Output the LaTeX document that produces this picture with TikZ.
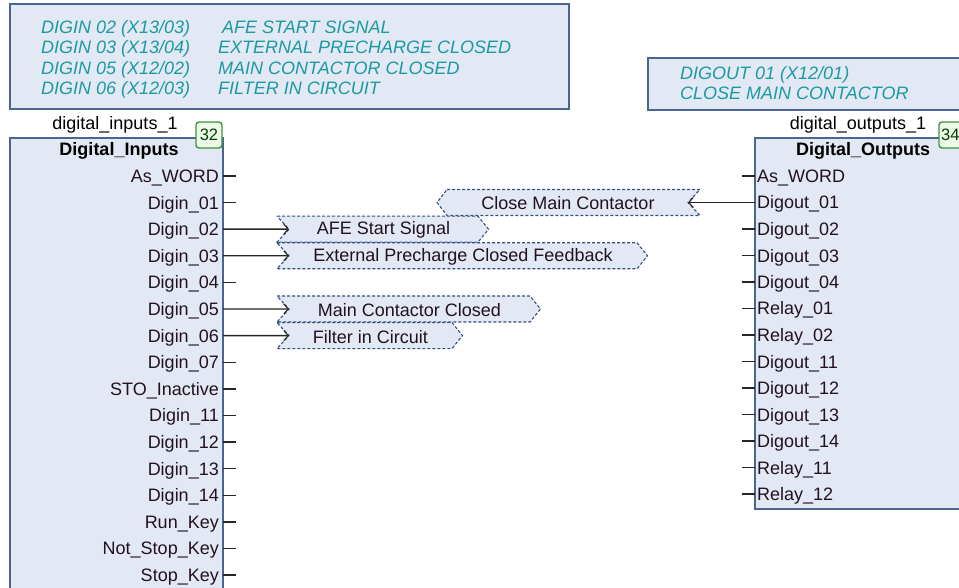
\documentclass[tikz,border=0pt]{standalone}
\usepackage{fontspec}
\setmainfont{Liberation Sans}
\usetikzlibrary{arrows.meta}
\definecolor{boxfill}{HTML}{E2E9F5}
\definecolor{boxline}{HTML}{4A6590}
\definecolor{cmttext}{HTML}{1C9AA2}
\definecolor{flagline}{HTML}{34507E}
\definecolor{badgeline}{HTML}{3E943E}
\definecolor{badgefill}{HTML}{EDF8E6}
\definecolor{pintext}{HTML}{22121E}
\tikzset{
  cmtbox/.style={draw=boxline,fill=boxfill,line width=1.3pt},
  blockbox/.style={draw=boxline,fill=boxfill,line width=1.3pt},
  cmt/.style={font=\fontsize{18}{20}\selectfont\itshape,text=cmttext,inner sep=0pt,anchor=base west},
  pinl/.style={font=\fontsize{18}{20}\selectfont,text=pintext,inner sep=0pt,anchor=base east},
  pinr/.style={font=\fontsize{18}{20}\selectfont,text=pintext,inner sep=0pt,anchor=base west},
  title/.style={font=\fontsize{18}{20}\selectfont\bfseries,text=black,inner sep=0pt,anchor=base},
  inst/.style={font=\fontsize{18}{20}\selectfont,text=black,inner sep=0pt,anchor=base},
  badge/.style={draw=badgeline,fill=badgefill,line width=1.4pt,rounded corners=3pt},
  badgetxt/.style={font=\fontsize{16.5}{17}\selectfont,text=black!75!green,inner sep=0pt},
  stub/.style={draw=black!85,line width=1.4pt},
  wire/.style={draw=black!85,line width=1.4pt,-{Straight Barb[length=4.5pt,width=10pt,line width=1.1pt]}},
  flag/.style={draw=flagline,fill=boxfill,line width=1.1pt,dash pattern=on 3pt off 2pt},
  flagtxt/.style={font=\fontsize{18}{20}\selectfont,text=pintext,inner sep=0pt}
}
\begin{document}
\begin{tikzpicture}[x=1pt,y=-1pt]
\useasboundingbox (0,0) rectangle (959,588);
% comment boxes
\draw[cmtbox] (10,4) rectangle (569,109);
\node[cmt] (c1a) at (41,33.5) {DIGIN 02 (X13/03)};
\node[cmt] (c1b) at (222,33.5) {AFE START SIGNAL};
\node[cmt] (c2a) at (41,53.8) {DIGIN 03 (X13/04)};
\node[cmt] (c2b) at (218,53.8) {EXTERNAL PRECHARGE CLOSED};
\node[cmt] (c3a) at (41,74.1) {DIGIN 05 (X12/02)};
\node[cmt] (c3b) at (218,74.1) {MAIN CONTACTOR CLOSED};
\node[cmt] (c4a) at (41,94.4) {DIGIN 06 (X12/03)};
\node[cmt] (c4b) at (218,94.4) {FILTER IN CIRCUIT};
\draw[cmtbox] (648,58) rectangle (975,110);
\node[cmt] (c5) at (680,79.5) {DIGOUT 01 (X12/01)};
\node[cmt] (c6) at (680,99.8) {CLOSE MAIN CONTACTOR};
% left block
\draw[blockbox] (10,138) rectangle (223,600);
\node[inst] (li) at (115,130) {digital\_inputs\_1};
\draw[badge] (196,122) rectangle (222,148);
\node[badgetxt] (lb) at (209,135) {32};
\node[title] (lt) at (119,156) {Digital\_Inputs};
\foreach \t [count=\i from 0] in {As\_WORD,Digin\_01,Digin\_02,Digin\_03,Digin\_04,Digin\_05,Digin\_06,Digin\_07,STO\_Inactive,Digin\_11,Digin\_12,Digin\_13,Digin\_14,Run\_Key,Not\_Stop\_Key,Stop\_Key}{
  \pgfmathsetmacro{\yy}{176+26.6*\i}
  \node[pinl] (lp\i) at (219,\yy+6.5) {\t};
  \coordinate (lo\i) at (223,\yy);
  \coordinate (ls\i) at (236,\yy);
}
\foreach \i in {0,1,4,7,8,9,10,11,12,13,14,15}{\draw[stub] (lo\i) -- (ls\i);}
% right block
\draw[blockbox] (755,138) rectangle (975,509);
\node[inst] (ri) at (858,130) {digital\_outputs\_1};
\draw[badge] (939,122) rectangle (975,148);
\node[badgetxt,anchor=west] (rb) at (941,135) {34};
\node[title] (rt) at (863,156) {Digital\_Outputs};
\foreach \t [count=\i from 0] in {As\_WORD,Digout\_01,Digout\_02,Digout\_03,Digout\_04,Relay\_01,Relay\_02,Digout\_11,Digout\_12,Digout\_13,Digout\_14,Relay\_11,Relay\_12}{
  \pgfmathsetmacro{\yy}{176+26.5*\i}
  \node[pinr] (rp\i) at (757,\yy+6.5) {\t};
  \coordinate (ro\i) at (755,\yy);
  \coordinate (rs\i) at (742,\yy);
}
\foreach \i in {0,2,3,4,5,6,7,8,9,10,11,12}{\draw[stub] (ro\i) -- (rs\i);}
% input flags: notch at x=289
\newcommand{\inflag}[5]{% name, y, right corner x, text, pin index
  \draw[flag] (277,#2-13) -- (#3,#2-13) -- (#3+10.5,#2) -- (#3,#2+13) -- (277,#2+13) -- (289,#2) -- cycle;
  \coordinate (#1n) at (289,#2);
  \node[flagtxt] (#1) at ({(289+#3)/2},#2+1) {#4};
  \draw[wire] (lo#5) -- (#1n);
}
\inflag{fa}{229.2}{478}{AFE Start Signal}{2}
\inflag{fb}{255.8}{637}{External Precharge Closed Feedback}{3}
\inflag{fc}{309}{530}{Main Contactor Closed}{5}
\inflag{fd}{335.6}{452}{Filter in Circuit}{6}
% output flag
\draw[flag] (447,189.5) -- (700,189.5) -- (688,202.5) -- (700,215.5) -- (447,215.5) -- (437,202.5) -- cycle;
\coordinate (fen) at (688,202.5);
\node[flagtxt] (fe) at (568,203.5) {Close Main Contactor};
\draw[wire] (ro1) -- (fen);
\end{tikzpicture}
\end{document}
